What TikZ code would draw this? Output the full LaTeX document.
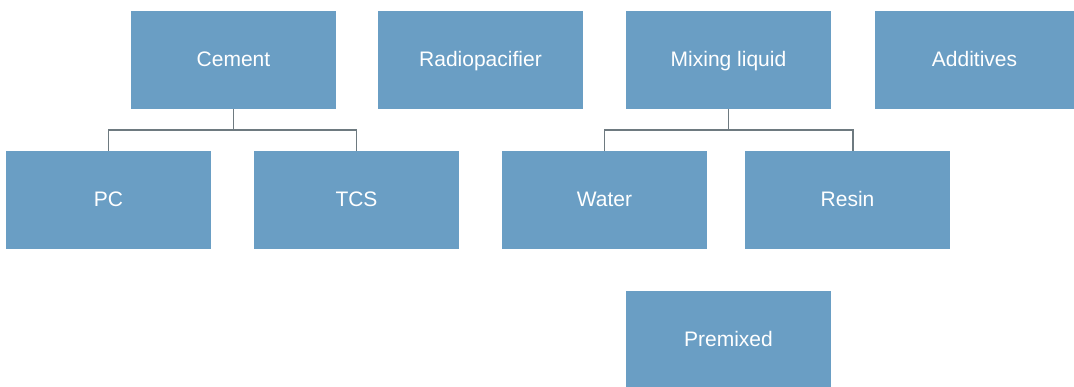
\documentclass[tikz,border=0pt]{standalone}
\usepackage{fontspec}
\setmainfont{Liberation Sans}
\definecolor{boxblue}{HTML}{6A9EC4}
\definecolor{linegray}{HTML}{6E7A80}
\begin{document}
\begin{tikzpicture}[x=1pt, y=1pt,
    part/.style={fill=boxblue, text=white, minimum width=205pt, minimum height=98pt, inner sep=0pt,
        text height=15pt, text depth=1pt, font=\fontsize{21}{25}\selectfont},
    conn/.style={draw=linegray, line width=1.5pt}]
    \useasboundingbox (0,0) rectangle (1074,-387);
    \node[part] (cement) at (233.5,-60) {Cement};
    \node[part] (radio) at (480.5,-60) {Radiopacifier};
    \node[part] (mixing) at (728.5,-60) {Mixing liquid};
    \node[part, minimum width=199pt] (additives) at (974.5,-60) {Additives};
    \node[part] (pc) at (108.5,-200) {PC};
    \node[part] (tcs) at (356.5,-200) {TCS};
    \node[part] (water) at (604.5,-200) {Water};
    \node[part] (resin) at (847.5,-200) {Resin};
    \node[part] (premixed) at (728.5,-340) {Premixed};
    \draw[conn] (cement.south) -- ++(0,-21) -| (pc.north);
    \draw[conn] (cement.south) -- ++(0,-21) -| (tcs.north);
    \draw[conn] (mixing.south) -- ++(0,-21) -| (water.north);
    \draw[conn] (mixing.south) -- ++(0,-21) -| ([xshift=5.5pt]resin.north);
\end{tikzpicture}
\end{document}
